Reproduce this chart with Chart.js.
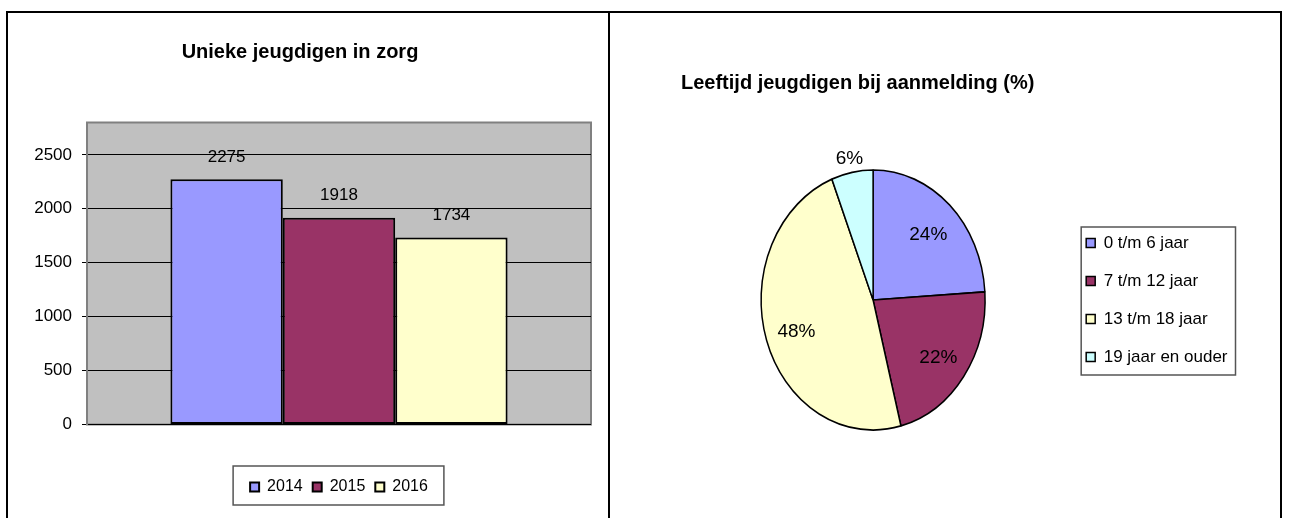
<!DOCTYPE html>
<html>
<head>
<meta charset="utf-8">
<script src="https://cdn.jsdelivr.net/npm/chart.js@4"></script>
<style>
  body { margin: 0; background: #fff; width: 1291px; height: 518px; overflow: hidden; position: relative; }
  #frame { position: absolute; left: 6px; top: 11px; width: 1276px; height: 530px; border: 2px solid #000; box-sizing: border-box; }
  #divider { position: absolute; left: 608px; top: 11px; width: 2px; height: 520px; background: #000; }
  .box { position: absolute; }
  #barBox { left: 9px; top: 13px; width: 599px; height: 505px; }
  #pieBox { left: 612px; top: 13px; width: 666px; height: 505px; }
</style>
</head>
<body>
<div id="frame"></div>
<div id="divider"></div>
<div class="box" id="barBox"><canvas id="chartbar"></canvas></div>
<div class="box" id="pieBox"><canvas id="chartpie"></canvas></div>
<script>
// data
const years = ['2014', '2015', '2016'];
const youthInCare = [2275, 1918, 1734];
const yTicks = [0, 500, 1000, 1500, 2000, 2500];
const yMax = 2800;

const ageGroups = ['0 t/m 6 jaar', '7 t/m 12 jaar', '13 t/m 18 jaar', '19 jaar en ouder'];
const agePercents = [24, 22, 48, 6];

// colours (old Excel palette)
const barColors = ['#9999FF', '#993366', '#FFFFCC'];
const pieColors = ['#9999FF', '#993366', '#FFFFCC', '#CCFFFF'];

Chart.defaults.font.family = "'Liberation Sans', Arial, sans-serif";
Chart.defaults.color = '#000';

// Pie is drawn as an ellipse, like the original
const PIE_STRETCH = 130 / 112;

// Draws a thin frame around the legend items
const legendFrame = {
    id: 'legendFrame',
    afterDraw(chart, args, opts) {
        const boxes = chart.legend && chart.legend.legendHitBoxes;
        if (!boxes || !boxes.length) return;
        const m = opts.margin;
        let l = Infinity, t = Infinity, r = -Infinity, b = -Infinity;
        boxes.forEach(h => {
            l = Math.min(l, h.left);
            t = Math.min(t, h.top);
            r = Math.max(r, h.left + h.width);
            b = Math.max(b, h.top + h.height);
        });
        const ctx = chart.ctx;
        ctx.save();
        ctx.strokeStyle = '#555';
        ctx.lineWidth = 1.5;
        ctx.strokeRect(l - m.left, t - m.top, (r - l) + m.left + m.right, (b - t) + m.top + m.bottom);
        ctx.restore();
    }
};

// Grey plot background
const plotBackground = {
    id: 'plotBackground',
    beforeDraw(chart) {
        const {ctx, chartArea: a} = chart;
        ctx.save();
        ctx.fillStyle = '#C0C0C0';
        ctx.fillRect(a.left, a.top, a.right - a.left, a.bottom - a.top);
        ctx.strokeStyle = '#808080';
        ctx.lineWidth = 2;
        ctx.strokeRect(a.left, a.top, a.right - a.left, a.bottom - a.top);
        ctx.restore();
    }
};

// Value labels above the bars
const barValues = {
    id: 'barValues',
    afterDatasetsDraw(chart) {
        const ctx = chart.ctx;
        ctx.save();
        ctx.font = "17px 'Liberation Sans', Arial, sans-serif";
        ctx.fillStyle = '#000';
        ctx.textAlign = 'center';
        ctx.textBaseline = 'middle';
        chart.data.datasets.forEach((ds, i) => {
            chart.getDatasetMeta(i).data.forEach((bar, j) => {
                ctx.fillText(String(ds.data[j]), bar.x, bar.y - 22);
            });
        });
        ctx.restore();
    }
};

// Stretch the pie vertically and write the percentages
const pieShape = {
    id: 'pieShape',
    beforeDatasetsDraw(chart) {
        const arc = chart.getDatasetMeta(0).data[0];
        const ctx = chart.ctx;
        ctx.save();
        ctx.translate(arc.x, arc.y);
        ctx.scale(1, PIE_STRETCH);
        ctx.translate(-arc.x, -arc.y);
    },
    afterDatasetsDraw(chart) {
        const ctx = chart.ctx;
        ctx.restore();
        const ds = chart.data.datasets[0];
        ctx.save();
        ctx.font = "19px 'Liberation Sans', Arial, sans-serif";
        ctx.fillStyle = '#000';
        ctx.textAlign = 'center';
        ctx.textBaseline = 'middle';
        chart.getDatasetMeta(0).data.forEach((arc, i) => {
            const mid = (arc.startAngle + arc.endAngle) / 2;
            const f = ds.data[i] < 10 ? 1.13 : 0.72;
            const x = arc.x + Math.cos(mid) * arc.outerRadius * f;
            const y = arc.y + Math.sin(mid) * arc.outerRadius * f * PIE_STRETCH + 3;
            ctx.fillText(ds.data[i] + '%', x, y);
        });
        ctx.restore();
    }
};

let barChart = null;
let pieChart = null;

function initializeCharts() {
    if (barChart) barChart.destroy();
    if (pieChart) pieChart.destroy();

    barChart = new Chart(document.getElementById('chartbar'), {
        type: 'bar',
        data: {
            labels: [''],
            datasets: years.map((y, i) => ({
                label: y,
                data: [youthInCare[i]],
                backgroundColor: barColors[i],
                borderColor: '#000',
                borderWidth: 2,
                borderSkipped: false,
                categoryPercentage: 0.669,
                barPercentage: 1
            }))
        },
        options: {
            responsive: true,
            maintainAspectRatio: false,
            animation: false,
            layout: { padding: { left: 0, right: 17, top: 0, bottom: 13 } },
            scales: {
                x: {
                    grid: { display: false },
                    border: { display: false },
                    ticks: { display: false },
                    afterFit: s => { s.height = 44.5; }
                },
                y: {
                    min: 0,
                    max: yMax,
                    afterBuildTicks: s => { s.ticks = yTicks.map(v => ({ value: v })); },
                    ticks: {
                        autoSkip: false,
                        color: '#000',
                        font: { size: 17 },
                        padding: 10,
                        callback: v => String(v)
                    },
                    afterFit: s => { s.width = 78; },
                    grid: { color: '#000', tickColor: '#000', lineWidth: 1, tickLength: 5 },
                    border: { color: '#808080', width: 2 }
                }
            },
            plugins: {
                title: {
                    display: true,
                    text: 'Unieke jeugdigen in zorg',
                    color: '#000',
                    font: { size: 20, weight: 'bold' },
                    padding: { top: 27, bottom: 58.5 }
                },
                legend: {
                    position: 'bottom',
                    fullSize: false,
                    labels: { color: '#000', font: { size: 16 }, boxWidth: 9, boxHeight: 9, padding: 10 }
                },
                legendFrame: { margin: { left: 17, top: 13, right: 16, bottom: 10 } },
                tooltip: { enabled: false }
            }
        },
        plugins: [plotBackground, barValues, legendFrame]
    });

    pieChart = new Chart(document.getElementById('chartpie'), {
        type: 'pie',
        data: {
            labels: ageGroups,
            datasets: [{
                data: agePercents,
                backgroundColor: pieColors,
                borderColor: '#000',
                borderWidth: 1.5,
                radius: 112
            }]
        },
        options: {
            responsive: true,
            maintainAspectRatio: false,
            animation: false,
            layout: { padding: { left: 69, right: 40.5, top: 0, bottom: 91 } },
            plugins: {
                title: {
                    display: true,
                    text: 'Leeftijd jeugdigen bij aanmelding (%)',
                    align: 'start',
                    color: '#000',
                    font: { size: 20, weight: 'bold' },
                    padding: { top: 58, bottom: 78 }
                },
                legend: {
                    position: 'right',
                    align: 'center',
                    fullSize: false,
                    labels: { color: '#000', font: { size: 17 }, boxWidth: 9, boxHeight: 9, padding: 21 }
                },
                legendFrame: { margin: { left: 5, top: 7.5, right: 8, bottom: 9.5 } },
                tooltip: { enabled: false }
            }
        },
        plugins: [pieShape, legendFrame]
    });
}

initializeCharts();
</script>
</body>
</html>
